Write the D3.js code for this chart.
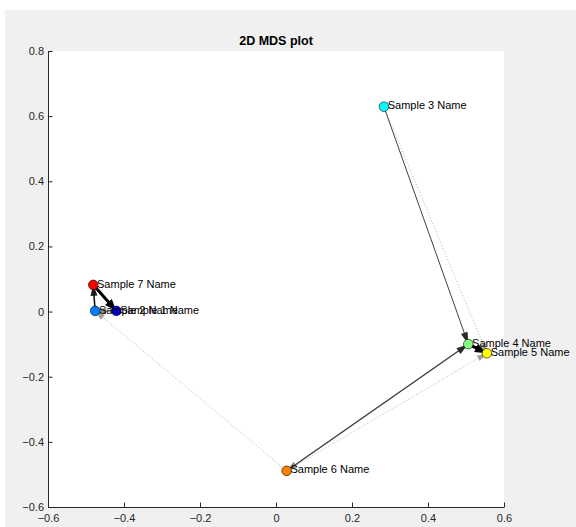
<!DOCTYPE html>
<html>
<head>
<meta charset="utf-8">
<script src="https://cdn.jsdelivr.net/npm/d3@7"></script>
<style>
  html, body { margin: 0; padding: 0; background: #ffffff; }
  svg { display: block; }
  text { font-family: "Liberation Sans", Arial, Helvetica, sans-serif; }
</style>
</head>
<body>
<div id="chart"></div>
<script>
// MDS coordinates of each sample
const sampleNames = ["Sample 1 Name", "Sample 2 Name", "Sample 3 Name", "Sample 4 Name",
                     "Sample 5 Name", "Sample 6 Name", "Sample 7 Name"];
const mdsX = [-0.420, -0.476, 0.284, 0.506, 0.555, 0.028, -0.481];
const mdsY = [0.002, 0.002, 0.629, -0.100, -0.128, -0.489, 0.082];
// jet(7) colour map
const sampleColors = ["#0000ff", "#0080ff", "#00ffff", "#80ff80", "#ffff00", "#ff8000", "#ff0000"];

// neighbour links: source sample, target sample (1-based), link strength class
const linkSource = [7, 4, 2, 1, 3, 6, 4, 6, 3, 6];
const linkTarget = [1, 5, 7, 2, 4, 4, 6, 2, 5, 5];
const linkClass  = ["strong", "strong", "medium", "gray", "thin", "thin", "gray", "dotted", "dotted", "dotted"];

const xTicks = [-0.6, -0.4, -0.2, 0, 0.2, 0.4, 0.6];
const yTicks = [-0.6, -0.4, -0.2, 0, 0.2, 0.4, 0.6, 0.8];

const W = 576, H = 527;
const plot = { left: 48, right: 504, top: 51, bottom: 507 };
const axisColor = "#262626";

const linkStyles = {
  strong: { color: "#000000", width: 3,   dash: null,  headLen: 12, headHalf: 4.5 },
  medium: { color: "#1a1a1a", width: 1.6, dash: null,  headLen: 11, headHalf: 3.5 },
  gray:   { color: "#8a8a8a", width: 1.4, dash: null,  headLen: 11, headHalf: 3.5 },
  thin:   { color: "#2a2a2a", width: 0.9, dash: null,  headLen: 12, headHalf: 3.5 },
  dotted: { color: "#a0a0a0", width: 0.8, dash: "1,2", headLen: 10, headHalf: 3 }
};
const drawOrder = ["dotted", "gray", "thin", "medium", "strong"];

const svg = d3.select("#chart").append("svg").attr("width", W).attr("height", H);

// figure background
svg.append("rect").attr("x", 5).attr("y", 10).attr("width", W - 5).attr("height", H - 10)
  .attr("fill", "#f0f0f0");

const x = d3.scaleLinear().domain([-0.6, 0.6]).range([plot.left, plot.right]);
const y = d3.scaleLinear().domain([-0.6, 0.8]).range([plot.bottom, plot.top]);

// axes area
svg.append("rect").attr("x", plot.left).attr("y", plot.top)
  .attr("width", plot.right - plot.left).attr("height", plot.bottom - plot.top)
  .attr("fill", "#ffffff");

// title
svg.append("text").attr("x", (plot.left + plot.right) / 2).attr("y", 45)
  .attr("text-anchor", "middle").attr("font-size", "12.5px").attr("font-weight", "bold")
  .attr("fill", "#000").text("2D MDS plot");

const fmt = d => d === 0 ? "0" : d3.format(".1f")(d);

// x axis with inward ticks
const xAxis = d3.axisBottom(x).tickValues(xTicks).tickSizeInner(-4.5).tickSizeOuter(0).tickFormat(fmt);
const gx = svg.append("g").attr("transform", `translate(0,${plot.bottom})`).call(xAxis);
gx.select(".domain").attr("stroke", axisColor).attr("stroke-width", 1);
gx.selectAll(".tick line").attr("stroke", axisColor).attr("stroke-width", 1);
gx.selectAll(".tick text").attr("fill", axisColor).attr("font-size", "11px")
  .attr("font-family", "Liberation Sans, Arial, sans-serif").attr("dy", "0.35em").attr("y", 11.5);

// y axis with inward ticks
const yAxis = d3.axisLeft(y).tickValues(yTicks).tickSizeInner(-4.5).tickSizeOuter(0).tickFormat(fmt);
const gy = svg.append("g").attr("transform", `translate(${plot.left},0)`).call(yAxis);
gy.select(".domain").attr("stroke", axisColor).attr("stroke-width", 1);
gy.selectAll(".tick line").attr("stroke", axisColor).attr("stroke-width", 1);
gy.selectAll(".tick text").attr("fill", axisColor).attr("font-size", "11px")
  .attr("font-family", "Liberation Sans, Arial, sans-serif").attr("x", -4);

// links drawn as arrows ending at the target marker centre
const links = linkSource.map((s, i) => ({ s: s - 1, t: linkTarget[i] - 1, cls: linkClass[i] }))
  .sort((a, b) => drawOrder.indexOf(a.cls) - drawOrder.indexOf(b.cls));

const gLinks = svg.append("g");
links.forEach(l => {
  const st = linkStyles[l.cls];
  const x0 = x(mdsX[l.s]), y0 = y(mdsY[l.s]);
  const x1 = x(mdsX[l.t]), y1 = y(mdsY[l.t]);
  const dx = x1 - x0, dy = y1 - y0, len = Math.hypot(dx, dy);
  const ux = dx / len, uy = dy / len;
  const bx = x1 - ux * st.headLen, by = y1 - uy * st.headLen;
  gLinks.append("line")
    .attr("x1", x0).attr("y1", y0).attr("x2", bx + ux).attr("y2", by + uy)
    .attr("stroke", st.color).attr("stroke-width", st.width)
    .attr("stroke-dasharray", st.dash);
  gLinks.append("path")
    .attr("d", d3.line()([[x1, y1], [bx - uy * st.headHalf, by + ux * st.headHalf],
                          [bx + uy * st.headHalf, by - ux * st.headHalf]]) + "Z")
    .attr("fill", st.color).attr("stroke", "none");
});

// sample markers
svg.append("g").selectAll("circle").data(sampleNames).join("circle")
  .attr("cx", (d, i) => x(mdsX[i])).attr("cy", (d, i) => y(mdsY[i])).attr("r", 4.8)
  .attr("fill", (d, i) => sampleColors[i]).attr("stroke", "#000").attr("stroke-width", 0.6);

// sample labels
svg.append("g").selectAll("text").data(sampleNames).join("text")
  .attr("x", (d, i) => x(mdsX[i] + 0.01)).attr("y", (d, i) => y(mdsY[i]) - 1.2)
  .attr("dy", "0.35em").attr("font-size", "11px").attr("fill", "#000")
  .text(d => d);
</script>
</body>
</html>
